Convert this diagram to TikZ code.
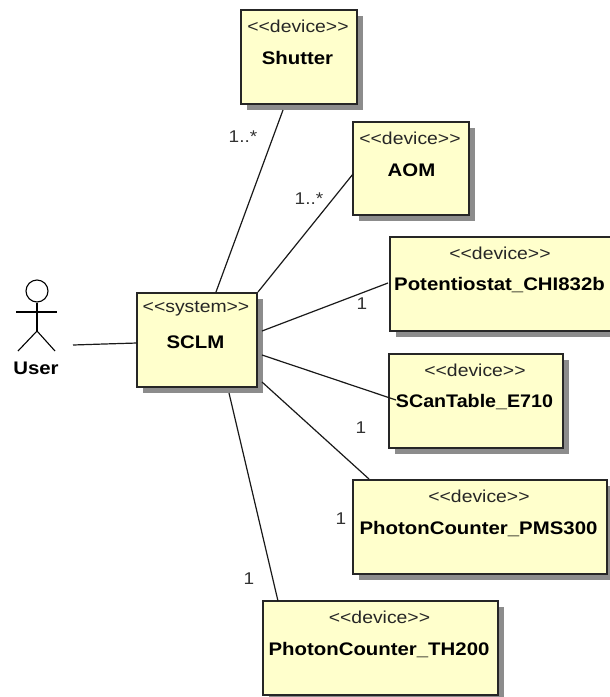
\documentclass[tikz,border=0pt]{standalone}
\usepackage{fontspec}
\setmainfont{Liberation Sans}
\newfontfamily\widefont[FakeStretch=1.12,Ligatures=NoCommon]{Liberation Sans}
\tikzset{
 x=1pt,y=-1pt,
 stereo/.style={font=\widefont\fontsize{17.3}{19}\selectfont,text=black!85,inner sep=0pt},
 nameb/.style={font=\widefont\fontsize{18.2}{20}\selectfont\bfseries,inner sep=0pt},
 mult/.style={font=\widefont\fontsize{17}{19}\selectfont,text=black!80,inner sep=0pt},
 conn/.style={draw=black!90,line width=1.2pt},
 actorline/.style={line width=1.1pt,draw=black}
}
\definecolor{boxfill}{RGB}{255,255,204}
% name x1 y1 x2 y2 stereo label label-dx label-dy
\newcommand{\umlbox}[9]{%
 \fill[black!45] (#2+6,#3+6) rectangle (#4+6,#5+6);
 \draw[draw=black!85,line width=1.4pt,fill=boxfill] (#2,#3) rectangle (#4,#5);
 \coordinate (#1) at (#2,#3);
 \node[stereo] (#1s) at ({(#2+#4)/2-1},#3+\stereoy) {#6};
 \node[nameb] (#1n) at ({(#2+#4)/2-1.5+#8},#3+\namey+#9) {#7};
}
\def\stereoy{16}
\def\namey{48}
\begin{document}
\begin{tikzpicture}
\path[use as bounding box] (0,0) rectangle (610,697);
\umlbox{shutter}{241}{10}{357}{104}{<{}<device>{}>}{Shutter}{0}{0}
\umlbox{aom}{353}{122}{469}{215}{<{}<device>{}>}{AOM}{2}{0}
\umlbox{poten}{390}{237}{612}{331}{<{}<device>{}>}{Potentiostat\_CHI832b}{0}{0}
\umlbox{scan}{389}{354}{563}{448}{<{}<device>{}>}{\scalebox{0.965}[1]{SCanTable\_E710}}{0}{0}
\umlbox{pms}{353}{480}{607}{574}{<{}<device>{}>}{PhotonCounter\_PMS300}{0}{1.5}
\umlbox{th}{263}{601}{498}{695}{<{}<device>{}>}{PhotonCounter\_TH200}{0}{1}
\umlbox{sclm}{137}{293}{257}{387}{<{}<system>{}>}{SCLM}{0}{1}
% connector ends
\coordinate (cs) at (283,110); \coordinate (ss) at (216,292);
\coordinate (ca) at (353,174); \coordinate (sa) at (258,292);
\coordinate (cp) at (388,283); \coordinate (sp) at (262,331);
\coordinate (cc) at (396,400); \coordinate (sc) at (262,355);
\coordinate (cm) at (369,479); \coordinate (sm) at (262,382);
\coordinate (ct) at (278,601); \coordinate (st) at (229,393);
\coordinate (ua) at (73,345); \coordinate (ub) at (104,344); \coordinate (uc) at (137,343);
\draw[conn] (cs) -- (ss);
\draw[conn] (ca) -- (sa);
\draw[conn] (cp) -- (sp);
\draw[conn] (cc) -- (sc);
\draw[conn] (cm) -- (sm);
\draw[conn] (ct) -- (st);
\draw[conn] (ua) -- (ub) -- (uc);
% actor
\node[actorline,circle,minimum size=22pt,inner sep=0pt] (head) at (37,291) {};
\coordinate (hip) at (37,331);
\coordinate (armL) at (16,312); \coordinate (armR) at (57,312);
\coordinate (legL) at (18,351); \coordinate (legR) at (55,351);
\draw[actorline] (head.south) -- (hip);
\draw[actorline] (armL) -- (armR);
\draw[actorline] (legL) -- (hip) -- (legR);
\node[nameb] (user) at (36,368) {User};
% multiplicities
\node[mult] (m1) at (243,137) {1..*};
\node[mult] (m2) at (309,199) {1..*};
\node[mult] (m3) at (362,304) {1};
\node[mult] (m4) at (361,428) {1};
\node[mult] (m5) at (341,519) {1};
\node[mult] (m6) at (249,579) {1};
\end{tikzpicture}
\end{document}
